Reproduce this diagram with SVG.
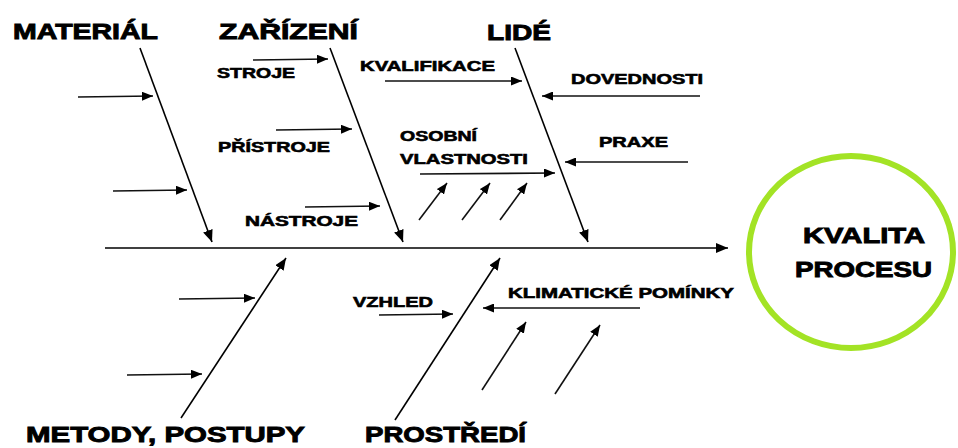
<svg xmlns="http://www.w3.org/2000/svg" width="958" height="448" viewBox="0 0 958 448">
  <defs>
    <marker id="head" markerUnits="userSpaceOnUse" markerWidth="14" markerHeight="10" refX="12" refY="5" orient="auto">
      <path d="M0,0 L12,5 L0,10 Z" fill="#000"/>
    </marker>
    <marker id="headSmall" markerUnits="userSpaceOnUse" markerWidth="12" markerHeight="9" refX="11" refY="4.5" orient="auto">
      <path d="M0,0 L11,4.5 L0,9 Z" fill="#000"/>
    </marker>
  </defs>
  <style>
    .bone { stroke: #000; stroke-width: 1.6; fill: none; marker-end: url(#head); }
    .twig { stroke: #111; stroke-width: 1.6; fill: none; marker-end: url(#headSmall); }
    .cat { font-family: "Liberation Sans", Arial, sans-serif; font-weight: bold; font-size: 22px; fill: #000; stroke: #000; stroke-width: 0.9; }
    .sub { font-family: "Liberation Sans", Arial, sans-serif; font-weight: bold; font-size: 14.5px; fill: #000; stroke: #000; stroke-width: 0.6; }
    .goal { font-family: "Liberation Sans", Arial, sans-serif; font-weight: bold; font-size: 22px; fill: #000; stroke: #000; stroke-width: 0.9; }
  </style>
  <rect width="958" height="448" fill="#fff"/>

  <g id="connectors">
    <!-- spine -->
    <line class="bone" x1="105" y1="248" x2="728" y2="248"/>
    <!-- upper bones -->
    <line class="bone" x1="140" y1="48" x2="212" y2="242"/>
    <line class="bone" x1="330" y1="48" x2="403" y2="242"/>
    <line class="bone" x1="515" y1="48" x2="588" y2="242"/>
    <!-- lower bones -->
    <line class="bone" x1="181" y1="418" x2="286" y2="258"/>
    <line class="bone" x1="395" y1="420" x2="500" y2="258"/>

    <!-- material twigs -->
    <line class="twig" x1="78" y1="97" x2="153" y2="96"/>
    <line class="twig" x1="113" y1="191" x2="187" y2="190"/>
    <!-- equipment twigs -->
    <line class="twig" x1="253" y1="60" x2="328" y2="59"/>
    <line class="twig" x1="276" y1="130" x2="352" y2="129"/>
    <line class="twig" x1="305" y1="207" x2="380" y2="206"/>
    <!-- people twigs -->
    <line class="twig" x1="385" y1="81" x2="522" y2="81"/>
    <line class="twig" x1="700" y1="96" x2="542" y2="96"/>
    <line class="twig" x1="688" y1="162" x2="565" y2="162"/>
    <line class="twig" x1="420" y1="174" x2="555" y2="173"/>
    <line class="twig" x1="419" y1="220" x2="447" y2="183"/>
    <line class="twig" x1="462" y1="220" x2="490" y2="183"/>
    <line class="twig" x1="500" y1="220" x2="527" y2="183"/>
    <!-- methods twigs -->
    <line class="twig" x1="179" y1="299" x2="255" y2="298"/>
    <line class="twig" x1="127" y1="375" x2="202" y2="374"/>
    <!-- environment twigs -->
    <line class="twig" x1="379" y1="315" x2="453" y2="314"/>
    <line class="twig" x1="640" y1="308" x2="483" y2="308"/>
    <line class="twig" x1="482" y1="390" x2="526" y2="322"/>
    <line class="twig" x1="555" y1="394" x2="600" y2="325"/>
  </g>

  <g id="material">
    <text class="cat" x="13" y="39" textLength="145" lengthAdjust="spacingAndGlyphs">MATERIÁL</text>
  </g>
  <g id="zarizeni">
    <text class="cat" x="219" y="39" textLength="139" lengthAdjust="spacingAndGlyphs">ZAŘÍZENÍ</text>
    <text class="sub" x="217" y="78" textLength="78" lengthAdjust="spacingAndGlyphs">STROJE</text>
    <text class="sub" x="218" y="152" textLength="112" lengthAdjust="spacingAndGlyphs">PŘÍSTROJE</text>
    <text class="sub" x="245" y="226" textLength="113" lengthAdjust="spacingAndGlyphs">NÁSTROJE</text>
  </g>
  <g id="lide">
    <text class="cat" x="487" y="40" textLength="64" lengthAdjust="spacingAndGlyphs">LIDÉ</text>
    <text class="sub" x="360" y="71" textLength="135" lengthAdjust="spacingAndGlyphs">KVALIFIKACE</text>
    <text class="sub" x="571" y="84" textLength="132" lengthAdjust="spacingAndGlyphs">DOVEDNOSTI</text>
    <text class="sub" x="599" y="147" textLength="69" lengthAdjust="spacingAndGlyphs">PRAXE</text>
    <text class="sub" x="400" y="141" textLength="77" lengthAdjust="spacingAndGlyphs">OSOBNÍ</text>
    <text class="sub" x="400" y="164" textLength="128" lengthAdjust="spacingAndGlyphs">VLASTNOSTI</text>
  </g>
  <g id="metody">
    <text class="cat" x="26" y="442" textLength="279" lengthAdjust="spacingAndGlyphs">METODY, POSTUPY</text>
  </g>
  <g id="prostredi">
    <text class="cat" x="365" y="442" textLength="161" lengthAdjust="spacingAndGlyphs">PROSTŘEDÍ</text>
    <text class="sub" x="353" y="307" textLength="80" lengthAdjust="spacingAndGlyphs">VZHLED</text>
    <text class="sub" x="508" y="298" textLength="226" lengthAdjust="spacingAndGlyphs">KLIMATICKÉ POMÍNKY</text>
  </g>
  <g id="kvalita">
    <ellipse cx="851" cy="252" rx="102" ry="96" fill="none" stroke="#a3e325" stroke-width="6"/>
    <text class="goal" x="803" y="243" textLength="122" lengthAdjust="spacingAndGlyphs">KVALITA</text>
    <text class="goal" x="795" y="277" textLength="137" lengthAdjust="spacingAndGlyphs">PROCESU</text>
  </g>
</svg>
